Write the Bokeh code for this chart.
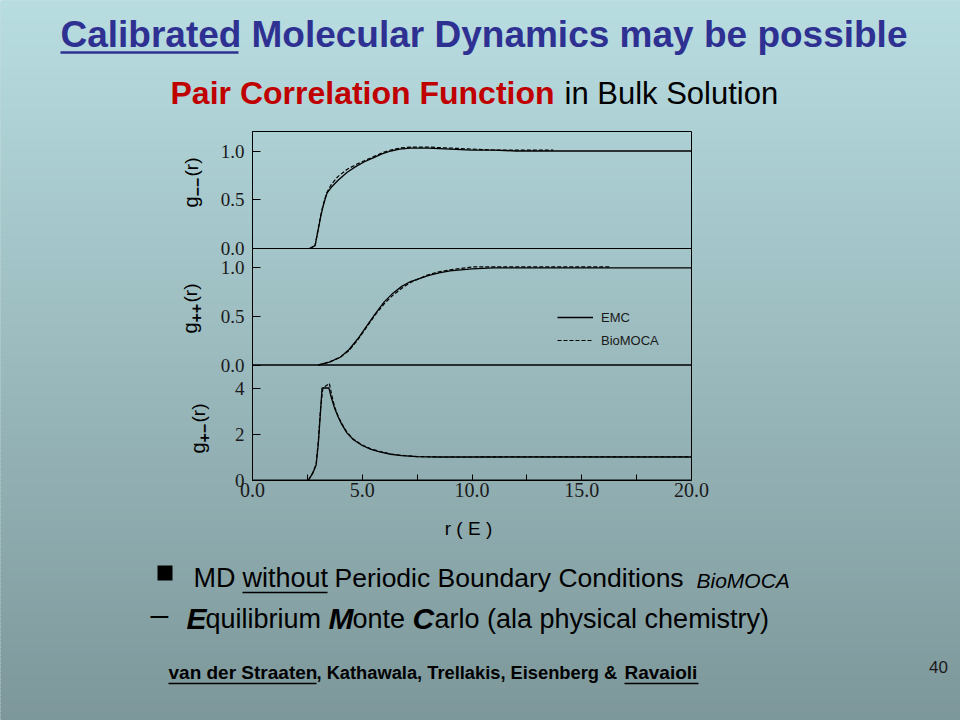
import numpy as np
from bokeh.plotting import figure
from bokeh.models import Range1d, LinearAxis, FixedTicker, NumeralTickFormatter, Legend, LegendItem
from bokeh.core.properties import value
from bokeh.embed import file_html
from bokeh.resources import INLINE

# ---------------- data ----------------
X_LIMITS = [0.0, 20.0]
X_TICKS = [0.0, 5.0, 10.0, 15.0, 20.0]
X_MINOR = [2.5, 7.5, 12.5, 17.5]

# panel 1 : g--(r)
Y1_LIMITS = [0.0, 1.2]
Y1_TICKS = [0.0, 0.5, 1.0]
r_mm_emc = [2.60, 2.85, 3.00, 3.10, 3.20, 3.30, 3.40, 3.60, 3.90, 4.30, 4.70, 5.10, 5.50,
            5.90, 6.30, 6.70, 7.20, 8.00, 9.00, 10.0, 11.0, 12.0, 14.0, 16.0, 18.0, 20.0]
g_mm_emc = [0.00, 0.03, 0.20, 0.32, 0.42, 0.50, 0.57, 0.63, 0.70, 0.78, 0.84, 0.89, 0.93,
            0.97, 1.00, 1.02, 1.03, 1.03, 1.02, 1.01, 1.01, 1.00, 1.00, 1.00, 1.00, 1.00]
r_mm_bio = [2.60, 2.85, 3.00, 3.10, 3.20, 3.30, 3.40, 3.60, 3.90, 4.30, 4.70, 5.10, 5.50,
            5.90, 6.30, 6.70, 7.20, 8.00, 9.00, 10.0, 11.0, 12.0, 13.7]
g_mm_bio = [0.00, 0.03, 0.21, 0.33, 0.43, 0.51, 0.58, 0.66, 0.74, 0.81, 0.86, 0.90, 0.94,
            0.98, 1.01, 1.03, 1.04, 1.04, 1.03, 1.02, 1.01, 1.01, 1.01]

# panel 2 : g++(r)
Y2_LIMITS = [0.0, 1.2]
Y2_TICKS = [0.0, 0.5, 1.0]
r_pp_emc = [3.0, 3.5, 4.0, 4.4, 4.8, 5.2, 5.6, 6.0, 6.4, 6.8, 7.2, 7.6, 8.0, 8.5, 9.0,
            10.0, 11.0, 12.0, 14.0, 16.0, 18.0, 20.0]
g_pp_emc = [0.00, 0.03, 0.08, 0.16, 0.27, 0.40, 0.53, 0.65, 0.74, 0.81, 0.86, 0.89, 0.92,
            0.95, 0.97, 0.99, 1.00, 1.00, 1.00, 1.00, 1.00, 1.00]
r_pp_bio = [3.0, 3.5, 4.0, 4.4, 4.8, 5.2, 5.6, 6.0, 6.4, 6.8, 7.2, 7.6, 8.0, 8.5, 9.0,
            10.0, 11.0, 12.0, 14.0, 16.3]
g_pp_bio = [0.00, 0.03, 0.08, 0.15, 0.26, 0.39, 0.52, 0.63, 0.72, 0.79, 0.85, 0.89, 0.93,
            0.96, 0.98, 1.01, 1.01, 1.01, 1.01, 1.01]

# panel 3 : g+-(r)
Y3_LIMITS = [0.0, 5.0]
Y3_TICKS = [0.0, 2.0, 4.0]
r_pm_emc = [2.55, 2.75, 2.90, 3.00, 3.10, 3.17, 3.30, 3.48, 3.60, 3.75, 3.90, 4.05, 4.30,
            4.60, 5.00, 5.40, 5.80, 6.30, 6.80, 7.50, 8.50, 10.0, 12.0, 14.0, 16.0, 18.0, 20.0]
g_pm_emc = [0.00, 0.30, 0.65, 1.60, 3.00, 4.00, 4.00, 4.00, 3.55, 3.10, 2.75, 2.45, 2.05,
            1.75, 1.50, 1.33, 1.22, 1.12, 1.06, 1.02, 1.00, 1.00, 1.00, 1.00, 1.00, 1.00, 1.00]
r_pm_bio = [2.55, 2.75, 2.90, 3.00, 3.10, 3.20, 3.35, 3.50, 3.62, 3.75, 3.90, 4.05, 4.30,
            4.60, 5.00, 5.40, 5.80, 6.30, 6.80, 7.50, 8.50, 10.0, 11.5, 14.0, 16.0, 18.0, 20.0]
g_pm_bio = [0.00, 0.32, 0.70, 1.70, 3.10, 3.95, 4.10, 4.20, 3.65, 3.15, 2.78, 2.48, 2.08,
            1.77, 1.52, 1.35, 1.24, 1.13, 1.07, 1.02, 1.00, 1.00, 1.01, 1.01, 1.01, 1.01, 1.01]

SERIES_NAMES = ["EMC", "BioMOCA"]

# ---------------- layout (page pixel coordinates) ----------------
PX0, PX1, PY0, PY1 = 0, 960, 0, 720
PANEL_L, PANEL_R = 252.0, 691.0
PANEL_TB = [(131.0, 248.0), (248.0, 364.5), (364.5, 479.5)]

TITLE_BLUE = "#2E3192"
RED = "#C00000"
BG_TOP = np.array([184, 221, 225])
BG_BOT = np.array([125, 151, 154])
BASE_SHIFT = 0.38   # em offset of the rendered alphabetic baseline

p = figure(frame_width=PX1 - PX0, frame_height=PY1 - PY0,
           x_range=Range1d(PX0, PX1), y_range=Range1d(PY1, PY0),
           output_backend="svg", toolbar_location=None,
           x_axis_location=None, y_axis_location=None,
           min_border=0, outline_line_color=None)
p.grid.visible = False
p.background_fill_color = "#A0BEC1"
p.border_fill_color = "#A0BEC1"

# background gradient
n = 180
edges = np.linspace(PY0, PY1, n + 1)
t = 0.5 * (edges[:-1] + edges[1:]) / 720.0
cols = ["#%02x%02x%02x" % tuple(int(round(v)) for v in (BG_TOP + (BG_BOT - BG_TOP) * tt)) for tt in t]
p.quad(left=PX0, right=PX1, top=edges[:-1], bottom=edges[1:] + 0.5,
       fill_color=cols, line_color=cols, line_width=1)

# ranges for panels
sx = (PANEL_R - PANEL_L) / (X_LIMITS[1] - X_LIMITS[0])
p.extra_x_ranges = {"r": Range1d(X_LIMITS[0] + (PX0 - PANEL_L) / sx, X_LIMITS[0] + (PX1 - PANEL_L) / sx)}
limits = [Y1_LIMITS, Y2_LIMITS, Y3_LIMITS]
ticks = [Y1_TICKS, Y2_TICKS, Y3_TICKS]
fmts = ["0.0", "0.0", "0"]
yr = {}
for i, ((T, B), (lo, hi)) in enumerate(zip(PANEL_TB, limits)):
    s = (B - T) / (hi - lo)
    yr[f"p{i}"] = Range1d(lo - (PY1 - B) / s, lo + (B - PY0) / s)
p.extra_y_ranges = yr

SERIF = "Liberation Serif"
SANS = "Liberation Sans"

for i, (lo, hi) in enumerate(limits):
    name = f"p{i}"
    p.quad(left=[X_LIMITS[0]], right=[X_LIMITS[1]], bottom=[lo], top=[hi],
           x_range_name="r", y_range_name=name, fill_color=None,
           line_color="black", line_width=1)
    ax = LinearAxis(x_range_name="r", y_range_name=name, fixed_location=X_LIMITS[0],
                    bounds=(lo, hi), ticker=FixedTicker(ticks=ticks[i], minor_ticks=[]),
                    formatter=NumeralTickFormatter(format=fmts[i]))
    ax.major_tick_in = 8
    ax.major_tick_out = 0
    ax.minor_tick_in = 0
    ax.minor_tick_out = 0
    ax.axis_line_color = "black"
    ax.major_tick_line_color = "black"
    ax.major_label_standoff = 8
    ax.major_label_text_font = SERIF
    ax.major_label_text_font_size = "19px"
    ax.major_label_text_color = "#1a1a1a"
    p.add_layout(ax, "left")

xax = LinearAxis(x_range_name="r", y_range_name="p2", fixed_location=Y3_LIMITS[0],
                 bounds=(X_LIMITS[0], X_LIMITS[1]),
                 ticker=FixedTicker(ticks=X_TICKS, minor_ticks=X_MINOR),
                 formatter=NumeralTickFormatter(format="0.0"))
xax.major_tick_in = 6
xax.major_tick_out = 0
xax.minor_tick_in = 6
xax.minor_tick_out = 0
xax.axis_line_color = "black"
xax.major_tick_line_color = "black"
xax.minor_tick_line_color = "black"
xax.major_label_standoff = 3
xax.major_label_text_font = SERIF
xax.major_label_text_font_size = "20px"
xax.major_label_text_color = "#1a1a1a"
p.add_layout(xax, "below")

# curves
curves = [(r_mm_emc, g_mm_emc, r_mm_bio, g_mm_bio),
          (r_pp_emc, g_pp_emc, r_pp_bio, g_pp_bio),
          (r_pm_emc, g_pm_emc, r_pm_bio, g_pm_bio)]
legend_renderers = None
for i, (re, ge, rb, gb) in enumerate(curves):
    name = f"p{i}"
    l1 = p.line(re, ge, x_range_name="r", y_range_name=name, line_color="black", line_width=1.3)
    l2 = p.line(rb, gb, x_range_name="r", y_range_name=name, line_color="black",
                line_width=1.2, line_dash="4 2")
    if i == 1:
        legend_renderers = (l1, l2)

leg = Legend(items=[LegendItem(label=SERIES_NAMES[0], renderers=[legend_renderers[0]]),
                    LegendItem(label=SERIES_NAMES[1], renderers=[legend_renderers[1]])],
             location=(557 - PX0, PY1 - 349), orientation="vertical",
             background_fill_alpha=0, border_line_color=None,
             glyph_width=36, glyph_height=18, label_height=18, spacing=5,
             padding=0, margin=0, label_standoff=8,
             label_text_font=SANS, label_text_font_size="13px", label_text_color="#1a1a1a")
p.add_layout(leg, "center")


def txt(x, y, s, size, color="black", style="normal", font=SANS, align="left", angle=0.0):
    # (x, y) is the intended alphabetic baseline anchor
    if angle:
        x = x - BASE_SHIFT * size
    else:
        y = y - BASE_SHIFT * size
    p.text(x=[x], y=[y], text=[s], text_font=value(font), text_font_size=f"{size}px",
           text_color=color, text_font_style=style, text_align=align,
           text_baseline="alphabetic", angle=angle)


# title
txt(60, 48, "Calibrated", 37, TITLE_BLUE, "bold")
txt(251, 48, "Molecular Dynamics may be possible", 37, TITLE_BLUE, "bold")
p.segment(x0=[60], x1=[238], y0=[52], y1=[52], line_color=TITLE_BLUE, line_width=2.5)

# subtitle
txt(170, 105, "Pair Correlation Function", 32, RED, "bold")
txt(564, 105, "in Bulk Solution", 31, "black")

# y-axis labels (rotated, composed)
ROT = np.pi / 2
ylab = [(198, 207, "−−"), (197, 333, "++"), (205, 453, "+−")]
for xb, yb, sub in ylab:
    txt(xb, yb, "g", 20, "black", angle=ROT)
    txt(xb + 5, yb - 11, sub, 16, "black", "bold", angle=ROT)
    txt(xb, yb - 31, "(r)", 19, "black", angle=ROT)

# x-axis label
txt(468, 535, "r ( E )", 19, "black", align="center")

# bullet lines
p.quad(left=[157], right=[172], top=[565], bottom=[580], fill_color="black", line_color=None)
txt(193, 588, "MD", 27)
txt(242, 588, "without", 27)
p.segment(x0=[242], x1=[327], y0=[592], y1=[592], line_color="black", line_width=1.5)
txt(334, 588, "Periodic Boundary Conditions", 26.5)
txt(696, 588, "BioMOCA", 21, style="italic")

txt(150, 626, "–", 32)
txt(186, 629, "E", 30, style="bold italic")
txt(205, 629, "quilibrium", 27)
txt(328, 629, "M", 30, style="bold italic")
txt(352, 629, "onte", 27)
txt(412, 629, "C", 30, style="bold italic")
txt(434, 629, "arlo (ala physical chemistry)", 27)

# footer
txt(168, 679, "van der Straaten", 19, style="bold")
p.segment(x0=[168], x1=[316], y0=[683], y1=[683], line_color="black", line_width=1.5)
txt(316, 679, ", Kathawala, Trellakis, Eisenberg & ", 18.3, style="bold")
txt(624, 679, "Ravaioli", 19, style="bold")
p.segment(x0=[624], x1=[698], y0=[683], y1=[683], line_color="black", line_width=1.5)
txt(938, 673, "40", 17, "#1a1a1a", align="center")

open("out.html", "w").write(file_html(p, INLINE))
